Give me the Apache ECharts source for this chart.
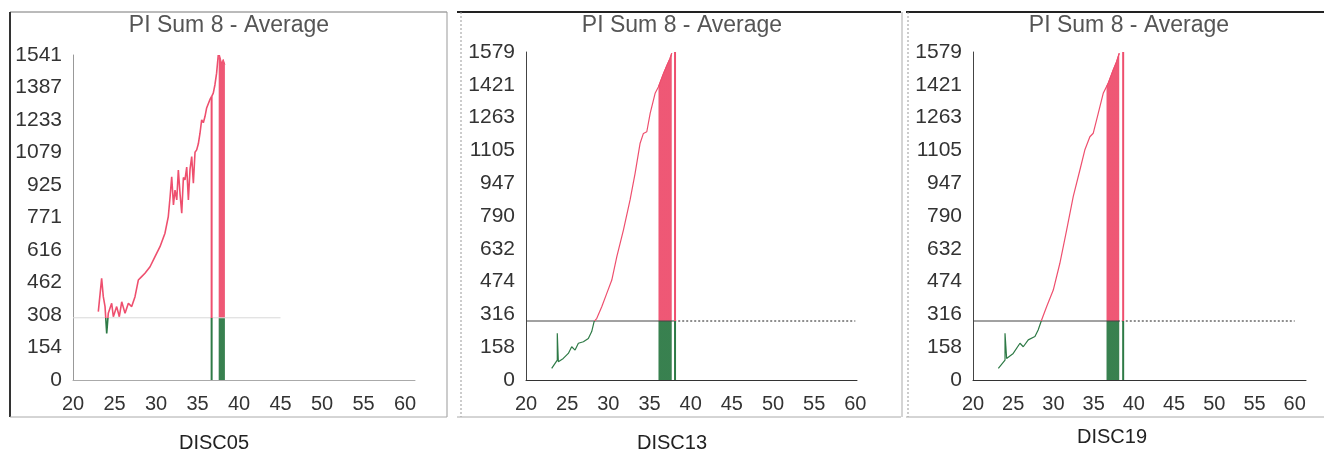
<!DOCTYPE html>
<html>
<head>
<meta charset="utf-8">
<title>PI Sum 8 - Average</title>
<script src="https://cdn.jsdelivr.net/npm/echarts@6/dist/echarts.min.js"></script>
<style>
  html, body { margin: 0; padding: 0; background: #fff; }
  #chart { width: 1324px; height: 474px; }
</style>
</head>
<body>
<div id="chart"></div>
<script>
// values
var discNames = ['DISC05', 'DISC13', 'DISC19'];
var titleText = 'PI Sum 8 - Average';
var yMaxes = [1541, 1579, 1579];
var thresholds = [295, 284, 284];
var yTickLabels = [
    ['0', '154', '308', '462', '616', '771', '925', '1079', '1233', '1387', '1541'],
    ['0', '158', '316', '474', '632', '790', '947', '1105', '1263', '1421', '1579'],
    ['0', '158', '316', '474', '632', '790', '947', '1105', '1263', '1421', '1579']
];
var xTickLabels = ['20', '25', '30', '35', '40', '45', '50', '55', '60'];

// DISC05
var curve05 = [
    [23.05, 324], [23.45, 482], [23.65, 395], [23.86, 348], [24.06, 221], [24.25, 316],
    [24.66, 364], [24.86, 300], [25.26, 348], [25.58, 300], [25.87, 371], [26.27, 316],
    [26.67, 364], [27.07, 348], [27.47, 395], [27.87, 474], [28.27, 490], [28.67, 506],
    [29.28, 537], [29.88, 585], [30.48, 632], [31.08, 696], [31.48, 775], [31.7, 870],
    [31.89, 964], [32.1, 830], [32.29, 900], [32.5, 854], [32.69, 996], [32.9, 880],
    [33.1, 791], [33.3, 960], [33.49, 949], [33.7, 1010], [33.9, 854], [34.1, 1000],
    [34.3, 1059], [34.5, 933], [34.7, 1080], [34.9, 1091], [35.1, 1120], [35.3, 1170],
    [35.5, 1233], [35.7, 1220], [35.9, 1249], [36.1, 1290], [36.3, 1297], [36.5, 1330],
    [36.7, 1344], [36.9, 1360], [37.1, 1400], [37.3, 1455], [37.5, 1541]
];
var fill05 = [[37.55, 1520], [37.65, 1541], [37.9, 1502], [38.1, 1520], [38.3, 1495]];
var drops05 = [[36.7, 1344]];

// DISC13
var curve13 = [
    [23.12, 56], [23.53, 80], [23.8, 96], [23.8, 225], [23.93, 88], [24.53, 104],
    [25.14, 128], [25.55, 160], [25.96, 144], [26.36, 177], [26.97, 184], [27.57, 200],
    [27.98, 233], [28.27, 281], [28.6, 297], [29.2, 353], [29.81, 417], [30.42, 481],
    [31.03, 594], [31.83, 722], [32.64, 867], [33.25, 995], [33.86, 1140], [34.26, 1187],
    [34.67, 1195], [35.08, 1284], [35.68, 1380], [36.09, 1412], [36.7, 1476], [37.5, 1549],
    [37.7, 1573]
];
var fill13 = [[36.09, 1412], [36.7, 1476], [37.1, 1515], [37.5, 1549], [37.7, 1573]];
var drops13 = [[38.1, 1579]];

// DISC19
var curve19 = [
    [23.15, 56], [23.98, 96], [23.98, 225], [24.18, 104], [25.0, 128], [25.84, 177],
    [26.25, 160], [26.87, 193], [27.7, 209], [28.1, 241], [28.53, 289], [29.15, 353],
    [29.98, 433], [30.8, 562], [31.64, 722], [32.46, 883], [33.29, 1011], [33.9, 1107],
    [34.53, 1171], [34.95, 1188], [35.57, 1284], [36.19, 1380], [36.8, 1428], [37.43, 1493],
    [37.85, 1532], [38.18, 1573]
];
var fill19 = [[36.6, 1412], [36.8, 1428], [37.43, 1493], [37.85, 1532], [38.18, 1573]];
var drops19 = [[38.67, 1579]];

var curves = [curve05, curve13, curve19];
var fills = [fill05, fill13, fill19];
var drops = [drops05, drops13, drops19];

var red = '#ee4f6e';
var green = '#2e7a46';

// grid placement of the three panels
var grids = [
    { left: 73, top: 55, width: 342, height: 325 },
    { left: 526, top: 52, width: 331, height: 328 },
    { left: 973, top: 52, width: 333, height: 328 }
];
var xMaxes = [61.2, 60.2, 61.4];
var titleX = [229, 682, 1129];
var labelPos = [[214, 443], [672, 443], [1112, 437]];

var chart = echarts.init(document.getElementById('chart'));

var xAxes = [], yAxes = [], series = [], visualMaps = [], graphics = [];

for (var i = 0; i < 3; i++) {
    xAxes.push({
        gridIndex: i, type: 'value', min: 20, max: xMaxes[i], interval: 5,
        axisLine: { show: true, lineStyle: { color: i === 0 ? '#aaa' : '#333', width: 1 } },
        axisTick: { show: false },
        splitLine: { show: false },
        axisLabel: {
            fontSize: 20, color: '#333', margin: 14, showMaxLabel: false,
            fontFamily: 'Liberation Sans',
            formatter: function (v, idx) { return xTickLabels[idx] || ''; }
        }
    });
    yAxes.push({
        gridIndex: i, type: 'value', min: 0, max: yMaxes[i], interval: yMaxes[i] / 10,
        axisLine: { show: true, lineStyle: { color: i === 0 ? '#999' : '#444', width: 1 } },
        axisTick: { show: false },
        splitLine: { show: false },
        axisLabel: {
            fontSize: 21, color: '#333', margin: 11, fontFamily: 'Liberation Sans',
            formatter: (function (k) {
                return function (v, idx) { return yTickLabels[k][idx]; };
            })(i)
        }
    });

    var idx = [];
    // threshold line
    series.push({
        type: 'line', xAxisIndex: i, yAxisIndex: i, symbol: 'none', silent: true,
        data: [[20, thresholds[i]], [i === 0 ? 45 : 38, thresholds[i]]],
        lineStyle: { color: i === 0 ? '#d8d8d8' : '#444', width: 1 }
    });
    if (i > 0) {
        series.push({
            type: 'line', xAxisIndex: i, yAxisIndex: i, symbol: 'none', silent: true,
            data: [[38, thresholds[i]], [60, thresholds[i]]],
            lineStyle: { color: '#444', width: 1.2, type: [2, 2] }
        });
    }
    // curve
    idx.push(series.length);
    series.push({
        name: discNames[i], type: 'line', xAxisIndex: i, yAxisIndex: i, symbol: 'none',
        data: curves[i], lineStyle: { width: i === 0 ? 1.6 : 1.2 }
    });
    // filled block at the end of the run
    idx.push(series.length);
    series.push({
        type: 'line', xAxisIndex: i, yAxisIndex: i, symbol: 'none',
        data: fills[i], lineStyle: { width: 1 }, areaStyle: { opacity: 0.95 }
    });
    // single vertical drops
    drops[i].forEach(function (d) {
        idx.push(series.length);
        series.push({
            type: 'line', xAxisIndex: i, yAxisIndex: i, symbol: 'none',
            data: [[d[0], 0], [d[0], d[1]]], lineStyle: { width: 2 }
        });
    });

    // green under the threshold, red above it (finite bounds so the gradient has stops)
    visualMaps.push({
        type: 'piecewise', show: false, dimension: 1, seriesIndex: idx,
        pieces: [
            { gte: -10000, lt: thresholds[i], color: green },
            { gte: thresholds[i], lte: 10000, color: red }
        ]
    });

    graphics.push({
        type: 'text', x: titleX[i], y: 14,
        style: { text: titleText, fontSize: 23, fill: '#555', fontFamily: 'Liberation Sans', textAlign: 'center' }
    });
    graphics.push({
        type: 'text', x: labelPos[i][0], y: labelPos[i][1],
        style: { text: discNames[i], fontSize: 20, fill: '#222', fontFamily: 'Liberation Sans',
                 textAlign: 'center', textVerticalAlign: 'middle' }
    });
}

// panel frames
function seg(x1, y1, x2, y2, color, w, dash) {
    return { type: 'line', silent: true, shape: { x1: x1, y1: y1, x2: x2, y2: y2 },
             style: { stroke: color, lineWidth: w || 1, lineDash: dash || null } };
}
graphics.push(
    seg(10, 12, 447, 12, '#777', 1),
    seg(10, 12, 10, 417, '#333', 2),
    seg(447, 12, 447, 417, '#999', 1),
    seg(10, 417, 447, 417, '#aaa', 1),
    seg(457, 12, 901, 12, '#222', 2),
    seg(461, 12, 461, 417, '#999', 1, [2, 2]),
    seg(457, 417, 901, 417, '#aaa', 1),
    seg(902, 12, 902, 417, '#aaa', 1),
    seg(906, 12, 1324, 12, '#222', 2),
    seg(908, 12, 908, 417, '#999', 1, [2, 2]),
    seg(906, 417, 1324, 417, '#aaa', 1)
);

chart.setOption({
    backgroundColor: '#fff',
    animation: false,
    grid: grids,
    xAxis: xAxes,
    yAxis: yAxes,
    visualMap: visualMaps,
    series: series,
    graphic: graphics
});
</script>
</body>
</html>
